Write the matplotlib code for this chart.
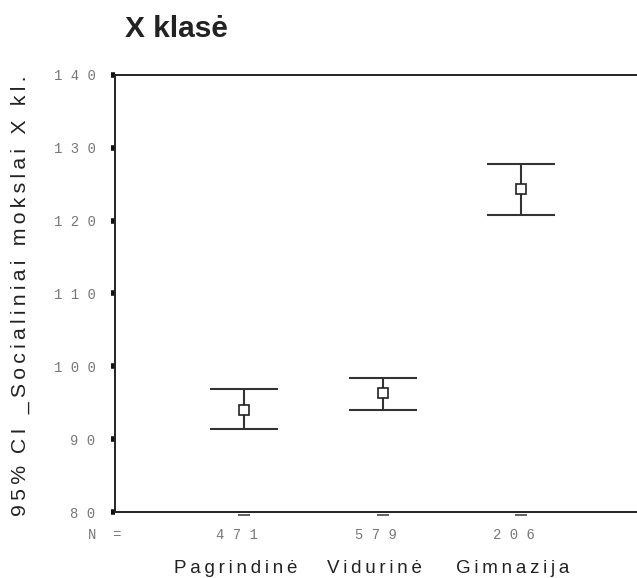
import matplotlib
matplotlib.use("Agg")
import matplotlib.pyplot as plt
import matplotlib.transforms as mtransforms

# data
groups = ["Pagrindinė", "Vidurinė", "Gimnazija"]
n_counts = ["471", "579", "206"]
means = [94.0, 96.3, 124.3]
ci_low = [91.4, 94.0, 120.8]
ci_high = [96.9, 98.4, 127.8]
yticks = [80, 90, 100, 110, 120, 130, 140]

THIN = "\u2009"
SANS = ["Liberation Sans", "DejaVu Sans"]
MONO = ["Liberation Mono", "DejaVu Sans Mono"]


def spaced(s, sep=THIN):
    return sep.join(list(s))


fig = plt.figure(figsize=(6.37, 5.78), dpi=100)
ax = fig.add_axes([115 / 637, 66 / 578, 545 / 637, 437 / 578])

x = list(range(1, len(groups) + 1))
yerr = [[m - lo for m, lo in zip(means, ci_low)],
        [hi - m for m, hi in zip(means, ci_high)]]
ax.errorbar(x, means, yerr=yerr, fmt="none", ecolor="#333333",
            elinewidth=1.5, capsize=24.5, capthick=1.5)
ax.plot(x, means, linestyle="none", marker="s", markersize=6.5,
        markerfacecolor="white", markeredgecolor="#222222", markeredgewidth=1.2)

ax.set_xlim(0.069, 4.0)
ax.set_ylim(80, 140)
for side in ["top", "bottom", "left"]:
    ax.spines[side].set_linewidth(1.4)
    ax.spines[side].set_color("#222222")
ax.spines["right"].set_visible(False)

ax.set_yticks(yticks)
ax.set_yticklabels([spaced(str(t), " ") for t in yticks],
                   fontfamily=MONO, fontsize=10, color="#777777")
ax.tick_params(axis="y", direction="out", length=3, width=4,
               color="#111111", pad=11)
ax.set_xticks([])

# small dashes below the axis at each group
trans = mtransforms.blended_transform_factory(ax.transData, ax.transAxes)
ax.plot(x, [-0.008] * len(x), linestyle="none", marker="_", markersize=8,
        color="#555555", markeredgewidth=1.3, transform=trans, clip_on=False)

# N row and group names
for xi, n, g in zip(x, n_counts, groups):
    ax.text(xi - 0.05, -0.053, spaced(n, " "), transform=trans, ha="center",
            va="center", fontfamily=MONO, fontsize=10, color="#777777")
    ax.text(xi - 0.06, -0.13, spaced(g), transform=trans, ha="center",
            va="center", fontfamily=SANS, fontsize=13.5, color="#222222")
fig.text(88 / 637, 1 - 535 / 578, "N  =", ha="left", va="center",
         fontfamily=MONO, fontsize=10, color="#777777")

fig.text(20 / 637, 1 - 296 / 578,
         spaced("95%") + "  " + spaced("CI _Socialiniai mokslai X kl."),
         rotation=90, ha="center", va="center", fontfamily=SANS,
         fontsize=15.3, color="#222222")

fig.text(125 / 637, 1 - 29 / 578, "X klasė", ha="left", va="center",
         fontfamily=SANS, fontsize=21.5, fontweight="bold", color="#222222")

fig.savefig("out.png", dpi=100)
